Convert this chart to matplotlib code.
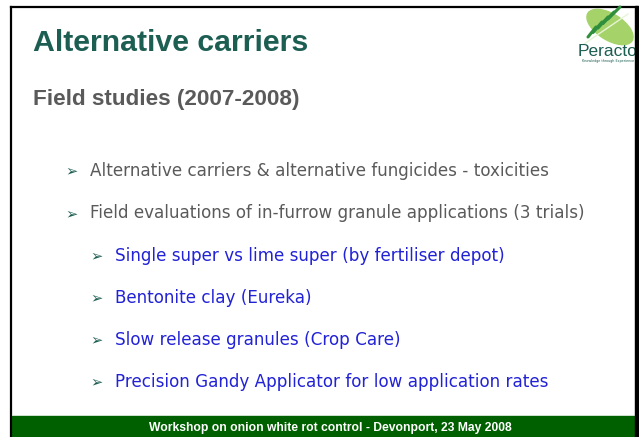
import matplotlib
matplotlib.use("Agg")
import matplotlib.pyplot as plt
from matplotlib.patches import Rectangle, Ellipse

# slide content
title = "Alternative carriers"
subtitle = "Field studies (2007-2008)"
bullets = [
    "Alternative carriers & alternative fungicides - toxicities",
    "Field evaluations of in-furrow granule applications (3 trials)",
]
sub_bullets = [
    "Single super vs lime super (by fertiliser depot)",
    "Bentonite clay (Eureka)",
    "Slow release granules (Crop Care)",
    "Precision Gandy Applicator for low application rates",
]
footer = "Workshop on onion white rot control - Devonport, 23 May 2008"

W, H = 639, 437
fig = plt.figure(figsize=(W / 100, H / 100), dpi=100)
ax = fig.add_axes([0, 0, 1, 1])
ax.set_xlim(0, W)
ax.set_ylim(H, 0)
ax.axis("off")

teal = "#1d5e52"
grey = "#5a5a5a"
blue = "#2222d6"
green = "#006000"

# frame
ax.add_patch(Rectangle((0, 0), W, H, color="white", zorder=0))
ax.plot([10.5, 10.5], [7, H], color="black", lw=1.6)
ax.plot([10.5, 637], [7, 7], color="black", lw=1.6)
ax.add_patch(Rectangle((635, 6), 4, H, color="black", zorder=5))
ax.add_patch(Rectangle((12, 416), 623, 21, color=green))

# logo - leaf with stripes
ax.add_patch(Ellipse((610, 27), 52, 26, angle=32, color="#a5d36a"))
for i in range(5):
    ax.plot([588 + i * 5, 596 + i * 6], [37 - i * 4.5, 27 - i * 5],
            color="#2f8f3c", lw=2.2, solid_capstyle="round")
ax.plot([584, 628], [44, 14], color="#e6f4d6", lw=1)
ax.text(608, 52, "Peracto", color=teal, fontsize=12.5, family="Liberation Sans",
        ha="center", va="center")
ax.text(608, 61, "Knowledge through Experience", color=teal, fontsize=2.4,
        ha="center", va="center")

# titles
ax.text(33, 43, title, color=teal, fontsize=21.8, fontweight="bold",
        family="Liberation Sans", va="center")
ax.text(33, 100, subtitle, color=grey, fontsize=16.2, fontweight="bold",
        family="Liberation Sans", va="center")

y = 171
for b in bullets:
    ax.text(65, y, "\u27a2", color=teal, fontsize=10.5, va="center")
    ax.text(90, y, b, color=grey, fontsize=12.1, family="DejaVu Sans", va="center")
    y += 42.5
for b in sub_bullets:
    ax.text(90, y, "\u27a2", color=teal, fontsize=10.5, va="center")
    ax.text(115, y, b, color=blue, fontsize=12.1, family="DejaVu Sans", va="center")
    y += 42

ax.text(330, 428, footer, color="white", fontsize=8.7, fontweight="bold",
        family="Liberation Sans", ha="center", va="center")

fig.savefig("out.png", dpi=100)
